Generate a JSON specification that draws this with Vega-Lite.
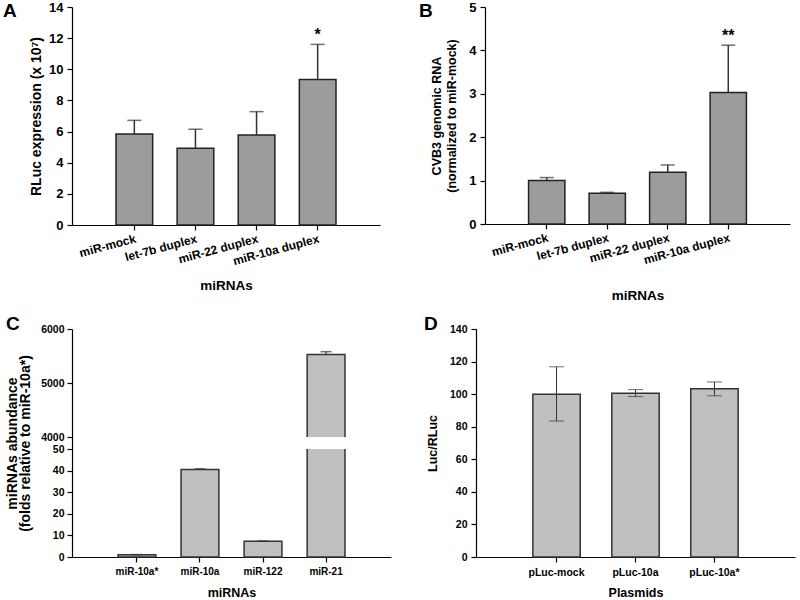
{
  "$schema": "https://vega.github.io/schema/vega-lite/v6.json",
  "background": "white",
  "padding": {"left": 3, "top": 1, "right": 3, "bottom": 2},
  "config": {
    "font": "Liberation Sans",
    "view": {"stroke": null},
    "axis": {
      "grid": false,
      "domainColor": "#000",
      "tickColor": "#000",
      "labelColor": "#000",
      "titleColor": "#000",
      "labelFontWeight": "bold",
      "titleFontWeight": "bold",
      "labelFont": "Liberation Sans",
      "titleFont": "Liberation Sans",
      "tickSize": 5,
      "domainWidth": 1.2,
      "tickWidth": 1.2,
      "labelOverlap": false
    },
    "title": {"font": "Liberation Sans", "fontSize": 19, "fontWeight": "bold", "anchor": "start", "frame": "group", "color": "#000"}
  },
  "spacing": 12,
  "vconcat": [
    {
      "spacing": 39,
      "hconcat": [
        {
          "title": {"text": "A", "dx": -69, "dy": 20, "offset": 0},
          "width": 308,
          "height": 218,
          "data": {"values": [
            {"g": "miR-mock", "v": 5.85, "hi": 6.72, "sig": ""},
            {"g": "let-7b duplex", "v": 4.93, "hi": 6.15, "sig": ""},
            {"g": "miR-22  duplex", "v": 5.78, "hi": 7.28, "sig": ""},
            {"g": "miR-10a duplex", "v": 9.35, "hi": 11.6, "sig": "*"}
          ]},
          "encoding": {
            "x": {"field": "g", "type": "nominal", "sort": null,
              "scale": {"paddingInner": 0.4, "paddingOuter": 0.72},
              "axis": {"title": "miRNAs", "labelAngle": -15, "labelAlign": "right", "labelBaseline": "top", "labelFontSize": 12, "titleFontSize": 13.5, "titlePadding": 12, "labelPadding": 3}}
          },
          "layer": [
            {"mark": {"type": "bar", "fill": "#9c9c9c", "stroke": "#222", "strokeWidth": 1.5},
             "encoding": {"y": {"field": "v", "type": "quantitative", "scale": {"domain": [0, 14], "nice": false},
               "axis": {"title": "RLuc expression (x 10⁷)", "values": [0, 2, 4, 6, 8, 10, 12, 14], "labelFontSize": 13, "titleFontSize": 14, "titlePadding": 5, "labelPadding": 4}}}},
            {"mark": {"type": "rule", "color": "#333", "strokeWidth": 1.5},
             "encoding": {"y": {"field": "v", "type": "quantitative",
               "axis": {"title": "RLuc expression (x 10⁷)", "values": [0, 2, 4, 6, 8, 10, 12, 14], "labelFontSize": 13, "titleFontSize": 14, "titlePadding": 5, "labelPadding": 4}}, "y2": {"field": "hi"}}},
            {"mark": {"type": "tick", "color": "#333", "size": 14, "thickness": 1.5},
             "encoding": {"y": {"field": "hi", "type": "quantitative",
               "axis": {"title": "RLuc expression (x 10⁷)", "values": [0, 2, 4, 6, 8, 10, 12, 14], "labelFontSize": 13, "titleFontSize": 14, "titlePadding": 5, "labelPadding": 4}}}},
            {"mark": {"type": "text", "dy": -1, "fontSize": 16, "fontWeight": "bold", "baseline": "bottom"},
             "encoding": {"y": {"field": "hi", "type": "quantitative",
               "axis": {"title": "RLuc expression (x 10⁷)", "values": [0, 2, 4, 6, 8, 10, 12, 14], "labelFontSize": 13, "titleFontSize": 14, "titlePadding": 5, "labelPadding": 4}}, "text": {"field": "sig"}}}
          ]
        },
        {
          "title": {"text": "B", "dx": -66, "dy": 20, "offset": 0},
          "width": 305,
          "height": 217,
          "data": {"values": [
            {"g": "miR-mock", "v": 1.0, "hi": 1.07, "sig": ""},
            {"g": "let-7b duplex", "v": 0.71, "hi": 0.73, "sig": ""},
            {"g": "miR-22 duplex", "v": 1.19, "hi": 1.36, "sig": ""},
            {"g": "miR-10a duplex", "v": 3.03, "hi": 4.12, "sig": "**"}
          ]},
          "encoding": {
            "x": {"field": "g", "type": "nominal", "sort": null,
              "scale": {"paddingInner": 0.4, "paddingOuter": 0.72},
              "axis": {"title": "miRNAs", "labelAngle": -15, "labelAlign": "right", "labelBaseline": "top", "labelFontSize": 12, "titleFontSize": 13.5, "titlePadding": 23, "labelPadding": 3}}
          },
          "layer": [
            {"mark": {"type": "bar", "fill": "#9c9c9c", "stroke": "#222", "strokeWidth": 1.5},
             "encoding": {"y": {"field": "v", "type": "quantitative", "scale": {"domain": [0, 5], "nice": false},
               "axis": {"title": ["CVB3 genomic RNA", "(normalized to miR-mock)"], "values": [0, 1, 2, 3, 4, 5], "labelFontSize": 13, "titleFontSize": 12.5, "titleLineHeight": 15, "titlePadding": 10, "labelPadding": 4}}}},
            {"mark": {"type": "rule", "color": "#333", "strokeWidth": 1.5},
             "encoding": {"y": {"field": "v", "type": "quantitative",
               "axis": {"title": ["CVB3 genomic RNA", "(normalized to miR-mock)"], "values": [0, 1, 2, 3, 4, 5], "labelFontSize": 13, "titleFontSize": 12.5, "titleLineHeight": 15, "titlePadding": 10, "labelPadding": 4}}, "y2": {"field": "hi"}}},
            {"mark": {"type": "tick", "color": "#333", "size": 14, "thickness": 1.5},
             "encoding": {"y": {"field": "hi", "type": "quantitative",
               "axis": {"title": ["CVB3 genomic RNA", "(normalized to miR-mock)"], "values": [0, 1, 2, 3, 4, 5], "labelFontSize": 13, "titleFontSize": 12.5, "titleLineHeight": 15, "titlePadding": 10, "labelPadding": 4}}}},
            {"mark": {"type": "text", "dy": -1, "fontSize": 16, "fontWeight": "bold", "baseline": "bottom"},
             "encoding": {"y": {"field": "hi", "type": "quantitative",
               "axis": {"title": ["CVB3 genomic RNA", "(normalized to miR-mock)"], "values": [0, 1, 2, 3, 4, 5], "labelFontSize": 13, "titleFontSize": 12.5, "titleLineHeight": 15, "titlePadding": 10, "labelPadding": 4}}, "text": {"field": "sig"}}}
          ]
        }
      ]
    },
    {
      "spacing": 33,
      "hconcat": [
        {
          "title": {"text": "C", "dx": -66, "dy": 10, "offset": 0},
          "width": 319,
          "height": 228,
          "data": {"values": [
            {"g": "miR-10a*", "v": 1.0, "hi": 1.1},
            {"g": "miR-10a", "v": 40.5, "hi": 40.8},
            {"g": "miR-122", "v": 7.3, "hi": 7.4},
            {"g": "miR-21", "v": 5530, "hi": 5580, "gapLo": 50, "gapHi": 4000}
          ]},
          "encoding": {
            "x": {"field": "g", "type": "nominal", "sort": null,
              "scale": {"paddingInner": 0.4, "paddingOuter": 0.73},
              "axis": {"title": "miRNAs", "labelAngle": 0, "labelFontSize": 10, "titleFontSize": 12.5, "titlePadding": 10, "labelPadding": 4}}
          },
          "layer": [
            {"mark": {"type": "bar", "fill": "#c0c0c0", "stroke": "#333", "strokeWidth": 1.5},
             "encoding": {"y": {"field": "v", "type": "quantitative",
               "scale": {"type": "linear", "domain": [0, 50, 4000, 6000], "range": [228, 120, 108, 0], "nice": false, "zero": false},
               "axis": {"title": ["miRNAs abundance", "(folds relative to miR-10a*)"], "values": [0, 10, 20, 30, 40, 50, 4000, 5000, 6000], "format": "d", "labelFontSize": 10.5, "titleFontSize": 14, "titleLineHeight": 13, "titlePadding": 8, "labelPadding": 3}}}},
            {"mark": {"type": "bar", "fill": "white", "width": {"band": 1.15}},
             "encoding": {"y": {"field": "gapLo", "type": "quantitative",
               "axis": {"title": ["miRNAs abundance", "(folds relative to miR-10a*)"], "values": [0, 10, 20, 30, 40, 50, 4000, 5000, 6000], "format": "d", "labelFontSize": 10.5, "titleFontSize": 14, "titleLineHeight": 13, "titlePadding": 8, "labelPadding": 3}}, "y2": {"field": "gapHi"}}},
            {"mark": {"type": "rule", "color": "#333", "strokeWidth": 1.2},
             "encoding": {"y": {"field": "v", "type": "quantitative",
               "axis": {"title": ["miRNAs abundance", "(folds relative to miR-10a*)"], "values": [0, 10, 20, 30, 40, 50, 4000, 5000, 6000], "format": "d", "labelFontSize": 10.5, "titleFontSize": 14, "titleLineHeight": 13, "titlePadding": 8, "labelPadding": 3}}, "y2": {"field": "hi"}}},
            {"mark": {"type": "tick", "color": "#333", "size": 11, "thickness": 1.5},
             "encoding": {"y": {"field": "hi", "type": "quantitative",
               "axis": {"title": ["miRNAs abundance", "(folds relative to miR-10a*)"], "values": [0, 10, 20, 30, 40, 50, 4000, 5000, 6000], "format": "d", "labelFontSize": 10.5, "titleFontSize": 14, "titleLineHeight": 13, "titlePadding": 8, "labelPadding": 3}}}}
          ]
        },
        {
          "title": {"text": "D", "dx": -52, "dy": 10, "offset": 0},
          "width": 319,
          "height": 228,
          "data": {"values": [
            {"g": "pLuc-mock", "v": 100.0, "lo": 83.5, "hi": 116.8},
            {"g": "pLuc-10a", "v": 100.6, "lo": 98.5, "hi": 102.8},
            {"g": "pLuc-10a*", "v": 103.3, "lo": 99.0, "hi": 107.5}
          ]},
          "encoding": {
            "x": {"field": "g", "type": "nominal", "sort": null,
              "scale": {"paddingInner": 0.4, "paddingOuter": 0.72},
              "axis": {"title": "Plasmids", "labelAngle": 0, "labelFontSize": 10.5, "titleFontSize": 12.5, "titlePadding": 9, "labelPadding": 5}}
          },
          "layer": [
            {"mark": {"type": "bar", "fill": "#c0c0c0", "stroke": "#333", "strokeWidth": 1.5},
             "encoding": {"y": {"field": "v", "type": "quantitative", "scale": {"domain": [0, 140], "nice": false},
               "axis": {"title": "Luc/RLuc", "values": [0, 20, 40, 60, 80, 100, 120, 140], "labelFontSize": 10.5, "titleFontSize": 12.5, "titlePadding": 10, "labelPadding": 4}}}},
            {"mark": {"type": "rule", "color": "#333", "strokeWidth": 1},
             "encoding": {"y": {"field": "lo", "type": "quantitative",
               "axis": {"title": "Luc/RLuc", "values": [0, 20, 40, 60, 80, 100, 120, 140], "labelFontSize": 10.5, "titleFontSize": 12.5, "titlePadding": 10, "labelPadding": 4}}, "y2": {"field": "hi"}}},
            {"mark": {"type": "tick", "color": "#333", "size": 15, "thickness": 1},
             "encoding": {"y": {"field": "hi", "type": "quantitative",
               "axis": {"title": "Luc/RLuc", "values": [0, 20, 40, 60, 80, 100, 120, 140], "labelFontSize": 10.5, "titleFontSize": 12.5, "titlePadding": 10, "labelPadding": 4}}}},
            {"mark": {"type": "tick", "color": "#333", "size": 15, "thickness": 1},
             "encoding": {"y": {"field": "lo", "type": "quantitative",
               "axis": {"title": "Luc/RLuc", "values": [0, 20, 40, 60, 80, 100, 120, 140], "labelFontSize": 10.5, "titleFontSize": 12.5, "titlePadding": 10, "labelPadding": 4}}}}
          ]
        }
      ]
    }
  ]
}
